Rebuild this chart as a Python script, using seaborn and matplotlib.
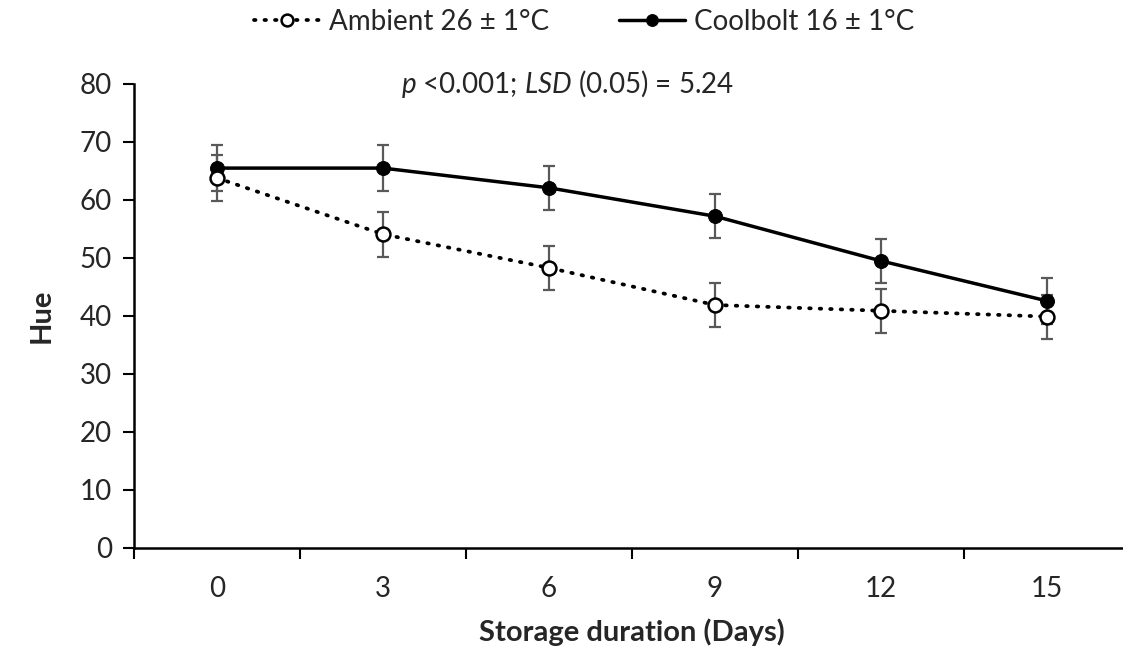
import numpy as np
import pandas as pd
import matplotlib
matplotlib.use("Agg")
import matplotlib.pyplot as plt
import seaborn as sns

days = [0, 3, 6, 9, 12, 15]
ambient = [63.8, 54.1, 48.3, 41.9, 40.9, 39.9]
ambient_err = [3.9, 3.9, 3.8, 3.8, 3.8, 3.8]
coolbolt = [65.5, 65.5, 62.1, 57.2, 49.5, 42.6]
coolbolt_err = [3.9, 3.9, 3.8, 3.8, 3.8, 3.9]
labels = ["Ambient 26 ± 1°C", "Coolbolt 16 ± 1°C"]
note = r"$\it{p}$ <0.001; $\it{LSD}$ (0.05) = 5.24"


def main():
    sns.set_style("white")
    plt.rcParams["font.family"] = ["Lato", "DejaVu Sans"]
    plt.rcParams["mathtext.fontset"] = "custom"
    plt.rcParams["mathtext.it"] = "Lato:italic"
    plt.rcParams["mathtext.rm"] = "Lato"

    df = pd.DataFrame({
        "day": days * 2,
        "hue": coolbolt + ambient,
        "err": coolbolt_err + ambient_err,
        "group": [labels[1]] * len(days) + [labels[0]] * len(days),
    })

    fig = plt.figure(figsize=(11.23, 6.57), dpi=100)
    ax = fig.add_axes([134 / 1123, 109 / 657, 996 / 1123, 464 / 657])

    # error bars underneath
    for grp, sub in df.groupby("group"):
        ax.errorbar(sub["day"], sub["hue"], yerr=sub["err"], fmt="none",
                    ecolor="#595959", elinewidth=1.6, capsize=4.5,
                    capthick=1.6, zorder=1)

    cb = df[df["group"] == labels[1]]
    am = df[df["group"] == labels[0]]
    sns.lineplot(data=cb, x="day", y="hue", ax=ax, color="black",
                 linewidth=2.5, marker="o", markersize=10,
                 markerfacecolor="black", markeredgecolor="black",
                 label=labels[1], zorder=3)
    sns.lineplot(data=am, x="day", y="hue", ax=ax, color="black",
                 linewidth=2.7, marker="o", markersize=10,
                 markerfacecolor="white", markeredgecolor="black",
                 markeredgewidth=1.8, label=labels[0], zorder=4)
    ax.lines[-1].set_linestyle((0, (0.4, 2.4)))
    ax.lines[-1].set_dash_capstyle("round")

    handles, lbls = ax.get_legend_handles_labels()
    if ax.get_legend() is not None:
        ax.get_legend().remove()

    ax.set_xlim(-1.5, 16.5)
    ax.set_ylim(0, 80)
    ax.set_yticks(range(0, 81, 10))
    ax.set_xticks(days)
    ax.set_xticks(np.arange(-1.5, 17, 3), minor=True)
    ax.tick_params(axis="x", which="major", length=0, pad=20, labelsize=20)
    ax.tick_params(axis="x", which="minor", length=8, width=1.5,
                   direction="out", bottom=True, color="black")
    ax.tick_params(axis="y", length=8, width=1.5, direction="out", left=True,
                   labelsize=20, pad=8, color="black")

    for side in ["top", "right"]:
        ax.spines[side].set_visible(False)
    for side in ["left", "bottom"]:
        ax.spines[side].set_linewidth(1.8)
        ax.spines[side].set_color("black")

    ax.set_xlabel("Storage duration (Days)", fontsize=21, fontweight="bold",
                  labelpad=12)
    ax.set_ylabel("Hue", fontsize=21, fontweight="bold", labelpad=18)

    ax.text(0.435, 1.0, note, transform=ax.transAxes, ha="center",
            va="center", fontsize=20)

    order = [lbls.index(labels[0]), lbls.index(labels[1])]
    fig.legend([handles[i] for i in order], [lbls[i] for i in order],
               loc="center", bbox_to_anchor=(0.52, 1 - 22 / 657),
               ncol=2, frameon=False, fontsize=20, handlelength=2.4,
               columnspacing=2.5, handletextpad=0.3, markerscale=0.85)

    fig.savefig("out.png", dpi=100)


if __name__ == "__main__":
    main()
